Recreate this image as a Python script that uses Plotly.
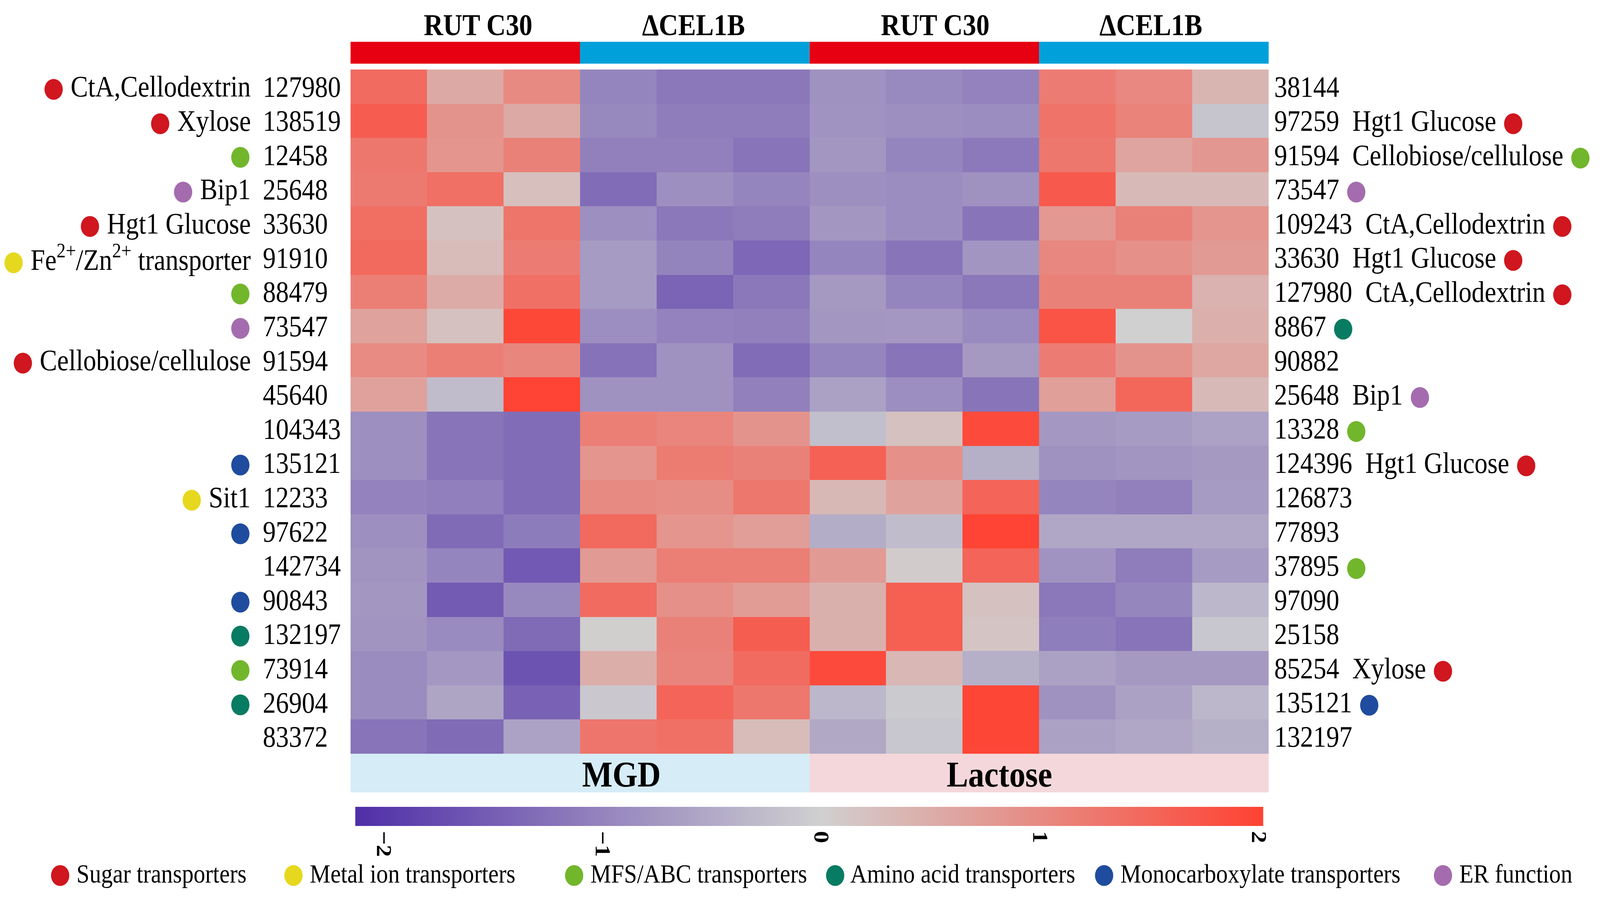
import plotly.graph_objects as go

W, H = 4670, 2302
FONT = "Liberation Serif"

# ---------------- data ----------------
sample_names = ["MGD_RUT_1", "MGD_RUT_2", "MGD_RUT_3",
                "MGD_dCEL_1", "MGD_dCEL_2", "MGD_dCEL_3",
                "Lac_RUT_1", "Lac_RUT_2", "Lac_RUT_3",
                "Lac_dCEL_1", "Lac_dCEL_2", "Lac_dCEL_3"]
strain_groups = ["RUT C30", "ΔCEL1B", "RUT C30", "ΔCEL1B"]
strain_colors = ["#E60012", "#00A1DA", "#E60012", "#00A1DA"]
condition_groups = ["MGD", "Lactose"]
condition_colors = ["#D6ECF7", "#F4D7DA"]

z_values = [
    [1.43, 0.56, 1.00, -0.98, -1.16, -1.16, -0.82, -0.93, -1.02, 1.19, 1.02, 0.39],
    [1.64, 0.87, 0.56, -0.95, -1.10, -1.10, -0.80, -0.85, -0.88, 1.33, 1.10, -0.16],
    [1.26, 0.84, 1.12, -1.05, -1.05, -1.20, -0.75, -0.98, -1.14, 1.26, 0.63, 0.81],
    [1.23, 1.37, 0.24, -1.31, -0.85, -0.98, -0.85, -0.88, -0.82, 1.68, 0.32, 0.32],
    [1.40, 0.20, 1.30, -0.85, -1.16, -1.10, -0.75, -0.88, -1.20, 0.80, 1.12, 0.84],
    [1.46, 0.28, 1.19, -0.70, -1.00, -1.38, -0.98, -1.21, -0.77, 1.04, 0.91, 0.77],
    [1.15, 0.52, 1.36, -0.70, -1.42, -1.16, -0.72, -0.98, -1.16, 1.12, 1.12, 0.42],
    [0.65, 0.22, 1.94, -0.87, -1.02, -1.05, -0.75, -0.74, -0.92, 1.77, 0.00, 0.46],
    [0.98, 1.15, 1.05, -1.23, -0.82, -1.31, -0.98, -1.21, -0.72, 1.19, 0.87, 0.59],
    [0.67, -0.26, 2.00, -0.82, -0.82, -1.05, -0.62, -0.87, -1.20, 0.70, 1.49, 0.32],
    [-0.85, -1.21, -1.31, 1.15, 1.07, 0.87, -0.23, 0.22, 1.89, -0.74, -0.70, -0.60],
    [-0.85, -1.21, -1.31, 0.84, 1.20, 1.12, 1.58, 0.91, -0.43, -0.82, -0.77, -0.72],
    [-1.02, -1.07, -1.31, 1.00, 0.95, 1.26, 0.34, 0.66, 1.54, -0.98, -1.05, -0.70],
    [-0.85, -1.33, -1.11, 1.47, 0.84, 0.73, -0.46, -0.26, 2.00, -0.54, -0.54, -0.54],
    [-0.79, -0.98, -1.56, 0.77, 1.16, 1.16, 0.77, 0.07, 1.54, -0.80, -1.10, -0.70],
    [-0.75, -1.54, -0.95, 1.43, 0.90, 0.74, 0.45, 1.60, 0.21, -1.16, -0.97, -0.33],
    [-0.79, -0.92, -1.33, 0.03, 1.12, 1.63, 0.45, 1.60, 0.17, -1.08, -1.20, -0.13],
    [-0.90, -0.74, -1.64, 0.48, 1.08, 1.43, 1.89, 0.35, -0.44, -0.62, -0.72, -0.72],
    [-0.90, -0.56, -1.44, -0.10, 1.54, 1.26, -0.33, -0.08, 1.96, -0.82, -0.62, -0.33],
    [-1.21, -1.33, -0.60, 1.29, 1.36, 0.28, -0.52, -0.13, 1.96, -0.62, -0.54, -0.44],
]

left_ids = ["127980", "138519", "12458", "25648", "33630", "91910", "88479", "73547",
            "91594", "45640", "104343", "135121", "12233", "97622", "142734", "90843",
            "132197", "73914", "26904", "83372"]
left_names = ["CtA,Cellodextrin", "Xylose", "", "Bip1", "Hgt1 Glucose",
              "Fe<sup>2+</sup>/Zn<sup>2+</sup> transporter", "", "", "Cellobiose/cellulose",
              "", "", "", "Sit1", "", "", "", "", "", "", ""]
left_class = ["sugar", "sugar", "mfs", "er", "sugar", "metal", "mfs", "er", "sugar", None,
              None, "mono", "metal", "mono", None, "mono", "amino", "mfs", "amino", None]

right_ids = ["38144", "97259", "91594", "73547", "109243", "33630", "127980", "8867",
             "90882", "25648", "13328", "124396", "126873", "77893", "37895", "97090",
             "25158", "85254", "135121", "132197"]
right_names = ["", "Hgt1 Glucose", "Cellobiose/cellulose", "", "CtA,Cellodextrin",
               "Hgt1 Glucose", "CtA,Cellodextrin", "", "", "Bip1", "", "Hgt1 Glucose",
               "", "", "", "", "", "Xylose", "", ""]
right_class = [None, "sugar", "mfs", "er", "sugar", "sugar", "sugar", "amino", None, "er",
               "mfs", "sugar", None, None, "mfs", None, None, "sugar", "mono", None]

class_keys = ["sugar", "metal", "mfs", "amino", "mono", "er"]
class_labels = ["Sugar transporters", "Metal ion transporters", "MFS/ABC transporters",
                "Amino acid transporters", "Monocarboxylate transporters", "ER function"]
class_colors = ["#D0161E", "#E6D81F", "#72B62C", "#087B63", "#1F4C9E", "#A46CAE"]

colorbar_ticks = [-2, -1, 0, 1, 2]
colorbar_ticktext = ["−2", "−1", "0", "1", "2"]

# ---------------- helpers ----------------
def px(x):
    return x / W


def py(y):
    return 1 - y / H


cls_color = dict(zip(class_keys, class_colors))
ZMIN, ZMAX = -2.13, 2.02
mid = (0 - ZMIN) / (ZMAX - ZMIN)
colorscale = [[0.0, "rgb(80,46,168)"], [mid, "rgb(208,208,208)"], [1.0, "rgb(255,66,50)"]]

n_rows = len(z_values)
n_cols = len(sample_names)

fig = go.Figure()
fig.add_trace(go.Heatmap(
    z=z_values, x=list(range(n_cols)), y=list(range(n_rows)),
    colorscale=colorscale, zmin=ZMIN, zmax=ZMAX, hoverinfo="z",
    colorbar=dict(
        orientation="h", x=px(2362), xanchor="center", y=py(2066), yanchor="top",
        len=2650 / W, lenmode="fraction", thickness=49, thicknessmode="pixels",
        xpad=0, ypad=0, outlinewidth=0, ticks="",
        tickvals=colorbar_ticks, ticktext=colorbar_ticktext, tickangle=90,
        tickfont=dict(family=FONT, size=62, color="black", weight="bold"),
    ),
))

shapes = []
annotations = []

# top strain annotation bar
per_strain = n_cols // len(strain_groups)
for i, (g, c) in enumerate(zip(strain_groups, strain_colors)):
    shapes.append(dict(type="rect", xref="x", yref="paper",
                       x0=i * per_strain - 0.5, x1=(i + 1) * per_strain - 0.5,
                       y0=py(163), y1=py(107), fillcolor=c, line=dict(width=0)))
strain_label_x = [1395, 2024, 2729, 3359]
for g, xx in zip(strain_groups, strain_label_x):
    annotations.append(dict(text=f"<b>{g}</b>", xref="paper", yref="paper", x=px(xx), y=py(63),
                            xanchor="center", yanchor="middle", showarrow=False,
                            font=dict(family=FONT, size=78, color="black")))

# bottom condition bar
per_cond = n_cols // len(condition_groups)
for i, (g, c) in enumerate(zip(condition_groups, condition_colors)):
    shapes.append(dict(type="rect", xref="x", yref="paper",
                       x0=i * per_cond - 0.5, x1=(i + 1) * per_cond - 0.5,
                       y0=py(2029), y1=py(1930), fillcolor=c, line=dict(width=0)))
cond_label_x = [1814, 2917]
for g, xx in zip(condition_groups, cond_label_x):
    annotations.append(dict(text=f"<b>{g}</b>", xref="paper", yref="paper", x=px(xx), y=py(1982),
                            xanchor="center", yanchor="middle", showarrow=False,
                            font=dict(family=FONT, size=94, color="black")))


def dot(cls):
    return (f"<span style='color:{cls_color[cls]};font-family:\"DejaVu Sans\";"
            f"font-size:70px'>●</span>")


# left row labels
for r in range(n_rows):
    annotations.append(dict(text=left_ids[r], xref="paper", yref="y", x=px(765), y=r,
                            xanchor="left", yanchor="middle", showarrow=False,
                            font=dict(family=FONT, size=76, color="black")))
    if left_class[r] is not None:
        t = dot(left_class[r]) + (" " + left_names[r] if left_names[r] else "")
        annotations.append(dict(text=t, xref="paper", yref="y", x=px(734), y=r,
                                xanchor="right", yanchor="middle", showarrow=False,
                                font=dict(family=FONT, size=76, color="black")))

# right row labels
for r in range(n_rows):
    t = right_ids[r]
    if right_names[r]:
        t += "\u00a0\u00a0" + right_names[r]
    if right_class[r] is not None:
        t += " " + dot(right_class[r])
    annotations.append(dict(text=t, xref="paper", yref="y", x=px(3717), y=r,
                            xanchor="left", yanchor="middle", showarrow=False,
                            font=dict(family=FONT, size=76, color="black")))

# class legend
legend_x = [143, 824, 1643, 2405, 3190, 4179]
for k, lab, xx in zip(class_keys, class_labels, legend_x):
    annotations.append(dict(text=dot(k) + " " + lab, xref="paper", yref="paper",
                            x=px(xx), y=py(2236), xanchor="left", yanchor="middle",
                            showarrow=False, font=dict(family=FONT, size=68, color="black")))

fig.update_layout(
    width=W, height=H, margin=dict(l=0, r=0, t=0, b=0),
    paper_bgcolor="white", plot_bgcolor="white",
    xaxis=dict(domain=[px(1023), px(3703)], range=[-0.5, n_cols - 0.5], visible=False),
    yaxis=dict(domain=[py(1930), py(178)], range=[n_rows - 0.5, -0.5], visible=False),
    shapes=shapes, annotations=annotations, showlegend=False,
)

# The browser viewport may be narrower than the figure; fit it horizontally.
fit_js = """
document.documentElement.style.overflow='hidden';
document.body.style.margin='0';
document.body.style.overflow='hidden';
var gd=document.getElementById('{plot_id}');
var s=Math.min(1, window.innerWidth/%d);
gd.style.transformOrigin='0 0';
gd.style.transform='scale('+s+',1)';
""" % W

fig.write_html("out.html", post_script=fit_js, config={"displayModeBar": False})
